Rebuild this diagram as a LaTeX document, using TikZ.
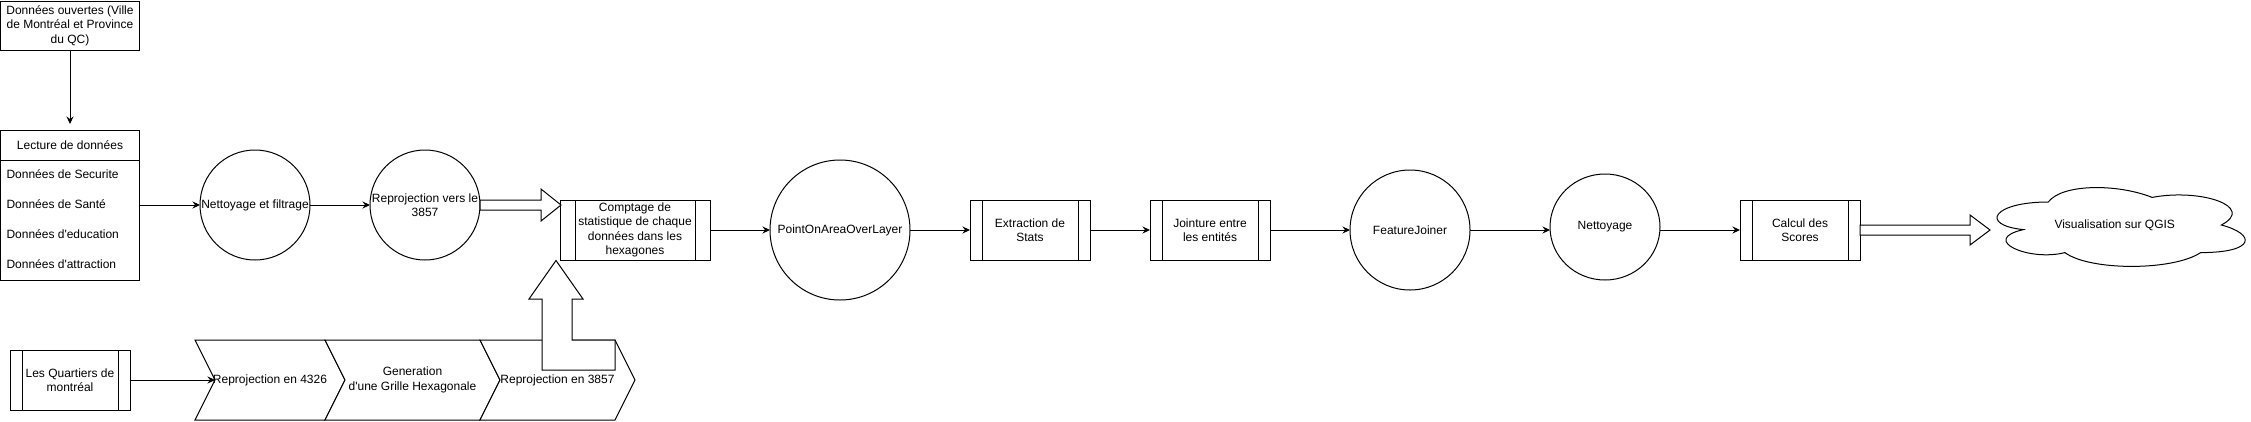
\documentclass[tikz,border=0pt]{standalone}
\usepackage{fontspec}
\setmainfont{Liberation Sans}[Ligatures=TeXOff]
\usetikzlibrary{arrows.meta,calc,shapes.geometric}

\begin{document}
\begin{tikzpicture}[x=1pt,y=-1pt,line width=1pt,
	every node/.style={font=\fontsize{12}{14.4}\selectfont,inner sep=0pt,outer sep=0pt,align=center},
	plainbox/.style={draw,fill=white,minimum width=#1,minimum height=60pt},
	plainbox/.default=120pt,
	procbox/.style={plainbox=#1,path picture={
		\draw ($(path picture bounding box.north west)!0.1!(path picture bounding box.north east)$) -- ($(path picture bounding box.south west)!0.1!(path picture bounding box.south east)$);
		\draw ($(path picture bounding box.north east)!0.1!(path picture bounding box.north west)$) -- ($(path picture bounding box.south east)!0.1!(path picture bounding box.south west)$);}},
	procbox/.default=120pt,
	rond/.style={draw,fill=white,ellipse,minimum width=#1,minimum height=#1},
	flow/.style={-{Stealth[length=7.5pt,width=7pt,inset=2.5pt]}},
	bloc/.style={draw,fill=white}]
	\useasboundingbox (0,0) rectangle (2251,421);

	\node[plainbox=139pt,minimum height=49pt] (ouvertes) at (70,25.5) {Données ouvertes (Ville\\de Montréal et Province\\du QC)};
	\node[plainbox=139pt,minimum height=150pt] (lecture) at (70,205) {};
	\draw ($(lecture.north west)+(0,30)$) -- ($(lecture.north east)+(0,30)$);
	\node (lecture-titre) at (70,145) {Lecture de données};
	\foreach \txt [count=\i] in {Données de Securite,Données de Santé,Données d'education,Données d'attraction}
		\node[anchor=west] (item\i) at ($(lecture.north west)+(6,14+30*\i)$) {\txt};

	\node[rond=110pt,label=center:{Nettoyage et filtrage}] (nettoyage) at (255,205) {};
	\node[rond=110pt,label=center:{Reprojection vers le\\3857}] (reproj) at (425,205) {};
	\node[procbox=150pt] (comptage) at (635,230) {Comptage de\\statistique de chaque\\données dans les\\hexagones};
	\node[rond=140pt,label=center:{PointOnAreaOverLayer}] (pointarea) at (840,230) {};
	\node[procbox] (extraction) at (1030,230) {Extraction de\\Stats};
	\node[procbox] (jointure) at (1210,230) {Jointure entre\\les entités};
	\node[rond=120pt,label=center:{FeatureJoiner}] (featjoin) at (1410,230) {};
	\node[rond=110pt,minimum height=106pt,label=center:{Nettoyage}] (nettoyage2) at (1605,227) {};
	\node[procbox] (calcul) at (1800,230) {Calcul des\\Scores};
	\node[procbox] (quartiers) at (70,380) {Les Quartiers de\\montréal};

	\foreach \xa/\xb/\nom in {195/345/chevA,325/500/chevB,480/635/chevC}
		\draw[fill=white] (\xa,340) coordinate (\nom-nw) -- (\xb-20,340) coordinate (\nom-ne) -- (\xb,380) -- (\xb-20,420) -- (\xa,420) -- (\xa+20,380) coordinate (\nom-in) -- cycle;
	\node (chevA-txt) at (270,380) {Reprojection en 4326};
	\node (chevB-txt) at (412.5,380) {Generation\\d'une Grille Hexagonale};
	\node (chevC-txt) at (557.5,380) {Reprojection en 3857};

	\draw[bloc] (chevC-ne) -- ++(0,30) -- ++(-73,0) -- ++(0,-71) -- ++(-13,0) -- ++(27,-38.5) -- ++(27,38.5) -- ++(-11,0) -- ++(0,41) -- cycle;
	\draw[bloc] ($(reproj.east)+(0,-5)$) -- ++(61,0) -- ++(0,-11) -- ++(20,16) -- ++(-20,16) -- ++(0,-11) -- ++(-61,0) -- cycle;
	\draw[bloc] ($(calcul.east)+(0,-5)$) -- ++(110,0) -- ++(0,-10) -- ++(20,15) -- ++(-20,15) -- ++(0,-10) -- ++(-110,0) -- cycle;

	\draw[flow,shorten >=6pt] (ouvertes) -- (lecture);
	\draw[flow] (lecture) -- (nettoyage);
	\draw[flow] (nettoyage) -- (reproj);
	\draw[flow] (comptage) -- (pointarea);
	\draw[flow] (pointarea) -- (extraction);
	\draw[flow] (extraction) -- (jointure);
	\draw[flow] (jointure) -- (featjoin);
	\draw[flow] (featjoin.east) -- (nettoyage2.west |- featjoin.east);
	\draw[flow] (nettoyage2.east |- calcul.west) -- (calcul.west);
	\draw[flow] (quartiers) -- (chevA-in);

	\begin{scope}[shift={(1979,179)},x=277pt,y=-92pt]
		\draw (0.25,0.25) .. controls (0.05,0.25) and (0,0.5) .. (0.16,0.55)
			.. controls (0,0.66) and (0.18,0.9) .. (0.31,0.8)
			.. controls (0.4,1) and (0.7,1) .. (0.8,0.8)
			.. controls (1,0.8) and (1,0.6) .. (0.875,0.5)
			.. controls (1,0.3) and (0.8,0.1) .. (0.625,0.2)
			.. controls (0.5,0.05) and (0.3,0.05) .. (0.25,0.25) -- cycle;
		\node (qgis) at (0.49,0.5) {Visualisation sur QGIS};
	\end{scope}
\end{tikzpicture}
\end{document}
